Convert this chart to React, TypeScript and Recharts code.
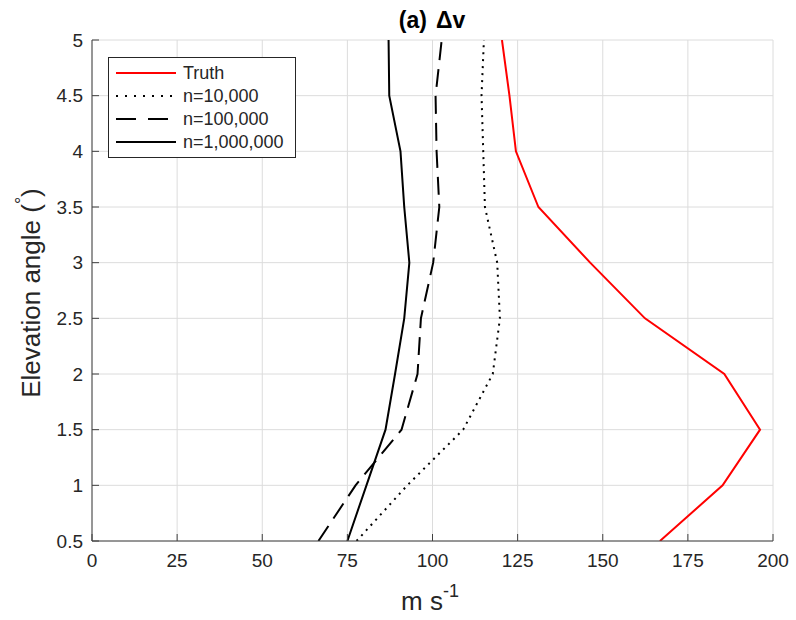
import React from "react";
import {
  LineChart,
  Line,
  XAxis,
  YAxis,
  CartesianGrid,
  Legend,
  Customized,
} from "recharts";

// ---- data ----
const elevations = [0.5, 1, 1.5, 2, 2.5, 3, 3.5, 4, 4.5, 5];
const truthValues = [166.8, 185.2, 196.2, 185.7, 162.4, 146.3, 131.1, 124.5, 122.6, 120.4];
const n10kValues = [77.7, 92.6, 109.0, 117.7, 119.8, 119.0, 115.4, 114.9, 114.4, 115.1];
const n100kValues = [66.5, 77.4, 90.9, 95.6, 96.6, 100.2, 102.0, 101.2, 100.9, 102.7];
const n1mValues = [75.0, 80.6, 86.2, 89.0, 91.7, 93.2, 91.7, 90.6, 87.3, 87.1];

const xTicks = [0, 25, 50, 75, 100, 125, 150, 175, 200];
const yTicks = [0.5, 1, 1.5, 2, 2.5, 3, 3.5, 4, 4.5, 5];

const seriesNames = ["Truth", "n=10,000", "n=100,000", "n=1,000,000"];

const data = elevations.map((e, i) => ({
  elev: e,
  truth: truthValues[i],
  n10k: n10kValues[i],
  n100k: n100kValues[i],
  n1m: n1mValues[i],
}));

const FONT = "'Liberation Sans', Arial, Helvetica, sans-serif";
const AXIS_COLOR = "#404040";
const TEXT_COLOR = "#262626";

const lineStyles = [
  { key: "truth", color: "#ff0000", dash: undefined as string | undefined },
  { key: "n10k", color: "#000000", dash: "2 5" },
  { key: "n100k", color: "#000000", dash: "18 9" },
  { key: "n1m", color: "#000000", dash: undefined as string | undefined },
];

const LegendBox = () => (
  <svg width={188} height={101} style={{ display: "block", fontFamily: FONT }}>
    <rect x={0.5} y={0.5} width={187} height={100} fill="#ffffff" stroke="#262626" strokeWidth={1} />
    {seriesNames.map((name, i) => {
      const y = 16 + i * 23;
      const st = lineStyles[i];
      return (
        <g key={name}>
          <line
            x1={8}
            x2={68}
            y1={y}
            y2={y}
            stroke={st.color}
            strokeWidth={2}
            strokeDasharray={i === 1 ? "2 7" : i === 2 ? "20 12" : undefined}
          />
          <text x={75} y={y + 6} fontSize={18} fill={TEXT_COLOR}>
            {name}
          </text>
        </g>
      );
    })}
  </svg>
);

const Annotations = () => (
  <g fontFamily={FONT} fill={TEXT_COLOR}>
    <text x={432} y={28} textAnchor="middle" fontSize={23} fontWeight="bold" fill="#000">
      (a)
      <tspan dx={9}>Δv</tspan>
    </text>
    <text x={430} y={610} textAnchor="middle" fontSize={26} fill={TEXT_COLOR}>
      m s
      <tspan dy={-13} fontSize={18}>-1</tspan>
    </text>
    <text
      x={40}
      y={293}
      transform="rotate(-90 40 293)"
      textAnchor="middle"
      fontSize={26}
      fill={TEXT_COLOR}
    >
      Elevation angle (
      <tspan dy={-12} fontSize={18}>°</tspan>
      <tspan dy={12}>)</tspan>
    </text>
  </g>
);

export default function App() {
  return (
    <div style={{ position: "absolute", left: 0, top: 0, width: 796, height: 620, background: "#fff" }}>
      <LineChart
        width={796}
        height={620}
        data={data}
        layout="vertical"
        margin={{ top: 40, right: 23, bottom: 0, left: 0 }}
        style={{ fontFamily: FONT }}
      >
        <CartesianGrid stroke="#dcdcdc" strokeWidth={1} />
        <XAxis
          type="number"
          domain={[0, 200]}
          ticks={xTicks}
          interval={0}
          height={79}
          stroke={AXIS_COLOR}
          tickSize={-7}
          tickMargin={20}
          tick={{ fontSize: 19, fill: TEXT_COLOR }}
          allowDataOverflow
        />
        <XAxis
          xAxisId="top"
          orientation="top"
          type="number"
          domain={[0, 200]}
          ticks={xTicks}
          interval={0}
          height={0}
          mirror
          tickSize={7}
          tick={false}
          stroke={AXIS_COLOR}
          allowDataOverflow
        />
        <YAxis
          type="number"
          dataKey="elev"
          domain={[0.5, 5]}
          ticks={yTicks}
          interval={0}
          reversed
          width={92}
          stroke={AXIS_COLOR}
          tickSize={-7}
          tickMargin={16}
          tick={{ fontSize: 19, fill: TEXT_COLOR }}
          allowDataOverflow
        />
        <YAxis
          yAxisId="right"
          orientation="right"
          type="number"
          dataKey="elev"
          domain={[0.5, 5]}
          ticks={yTicks}
          interval={0}
          reversed
          width={0}
          mirror
          tickSize={7}
          tick={false}
          stroke={AXIS_COLOR}
          allowDataOverflow
        />
        {lineStyles.map((s) => (
          <Line
            key={s.key}
            dataKey={s.key}
            type="linear"
            stroke={s.color}
            strokeWidth={2}
            strokeDasharray={s.dash}
            dot={false}
            activeDot={false}
            isAnimationActive={false}
          />
        ))}
        <Legend
          layout="vertical"
          align="center"
          verticalAlign="middle"
          wrapperStyle={{ left: 108, top: 57, width: 188, height: 101 }}
          content={() => <LegendBox />}
        />
        <Customized component={Annotations} />
      </LineChart>
    </div>
  );
}
